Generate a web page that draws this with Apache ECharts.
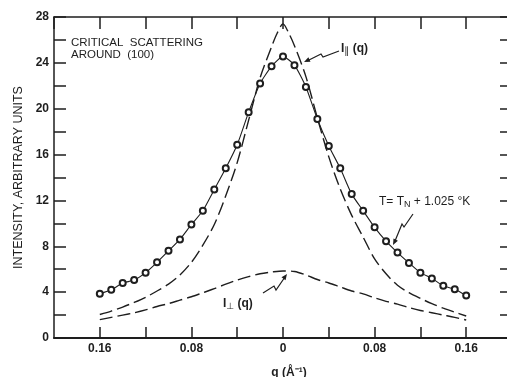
<!DOCTYPE html>
<html>
<head>
	<meta charset="utf-8">
	<script type="text/javascript" src="https://cdn.jsdelivr.net/npm/echarts@6.0.0/dist/echarts.min.js"></script>
</head>
<body style="margin:0;background:#fff;">
	<div id="main" style="width:507px;height:377px;position:absolute;left:0;top:0;"></div>
	<script type="text/javascript">
		// measured points, T = TN + 1.025 K
		var qObs = [-0.16,-0.15,-0.14,-0.13,-0.12,-0.11,-0.10,-0.09,-0.08,-0.07,-0.06,-0.05,-0.04,-0.03,-0.02,-0.01,0,
			0.01,0.02,0.03,0.04,0.05,0.06,0.07,0.08,0.09,0.10,0.11,0.12,0.13,0.14,0.15,0.16];
		var iObs = [3.85,4.2,4.8,5.05,5.7,6.6,7.6,8.6,9.9,11.1,12.95,14.8,16.85,19.7,22.2,23.7,24.55,
			23.8,21.9,19.1,16.75,14.8,12.55,11.1,9.65,8.45,7.45,6.55,5.7,5.2,4.55,4.25,3.7];

		// I parallel (dashed, tall)
		var qPar = [-0.16,-0.15,-0.14,-0.13,-0.12,-0.11,-0.10,-0.09,-0.08,-0.07,-0.06,-0.05,-0.04,-0.03,-0.02,-0.01,-0.005,0,
			0.005,0.01,0.02,0.03,0.04,0.05,0.06,0.07,0.08,0.09,0.10,0.11,0.12,0.13,0.14,0.15,0.16];
		var iPar = [2.05,2.35,2.7,3.1,3.55,4.1,4.7,5.5,6.6,8.1,9.9,12.4,15.3,19.0,22.7,25.4,26.6,27.4,
			26.6,25.5,22.8,19.2,15.8,13.0,10.7,8.8,6.9,5.6,4.6,3.95,3.45,3.0,2.6,2.25,1.92];

		// I perpendicular (dashed, low)
		var qPerp = qObs;
		var iPerp = [1.6,1.8,2.0,2.2,2.45,2.75,3.0,3.3,3.6,3.95,4.3,4.7,5.05,5.35,5.6,5.75,5.85,
			5.8,5.5,5.1,4.8,4.45,4.1,3.85,3.5,3.2,2.95,2.65,2.4,2.2,2.0,1.8,1.57];

		var xLabels = {'-16':'0.16','-8':'0.08','0':'0','8':'0.08','16':'0.16'};
		var yLabels = [0,4,8,12,16,20,24,28];

		function pairs(xs, ys){
			var out = [];
			for(var i=0;i<xs.length;i++){
				out.push([xs[i], ys[i]]);
			}
			return out;
		}

		var ink = '#1e1e1e';
		var font = 'Liberation Sans';

		var chart = echarts.init(document.getElementById('main'));

		chart.setOption({
			animation: false,
			backgroundColor: '#fff',
			grid: { left:54, top:17, right:-5, bottom:39, outerBoundsMode:'none', show:false },
			xAxis: [{
				type:'value', min:-0.2, max:0.2, interval:0.04, position:'bottom',
				name:'q (Å⁻¹)', nameLocation:'middle', nameGap:29,
				nameTextStyle:{ color:ink, fontFamily:font, fontSize:12, fontWeight:'bold', padding:[0,0,0,12] },
				axisLine:{ show:true, onZero:false, lineStyle:{ color:ink, width:2 } },
				axisTick:{ show:true, inside:true, length:11, lineStyle:{ color:ink, width:1.5 } },
				axisLabel:{ show:true, margin:5, color:ink, fontFamily:font, fontSize:12, fontWeight:'bold',
					showMinLabel:false, showMaxLabel:false,
					formatter:function(v){ var k = String(Math.round(v*100)); return xLabels[k] || ''; } },
				splitLine:{ show:false }
			},{
				type:'value', min:-0.2, max:0.2, interval:0.04, position:'top',
				axisLine:{ show:true, onZero:false, lineStyle:{ color:ink, width:1.5 } },
				axisTick:{ show:true, inside:true, length:12, lineStyle:{ color:ink, width:1.5 } },
				axisLabel:{ show:false }, splitLine:{ show:false }
			}],
			yAxis: [{
				type:'value', min:0, max:28, interval:2, position:'left',
				name:'INTENSITY, ARBITRARY UNITS', nameLocation:'middle', nameGap:26, nameRotate:90,
				nameTextStyle:{ color:ink, fontFamily:font, fontSize:12.5 },
				axisLine:{ show:true, onZero:false, lineStyle:{ color:ink, width:1.5 } },
				axisTick:{ show:true, inside:true, length:12, lineStyle:{ color:ink, width:1.5 } },
				axisLabel:{ show:true, margin:5, color:ink, fontFamily:font, fontSize:12, fontWeight:'bold',
					formatter:function(v){ return yLabels.indexOf(v) >= 0 ? String(v) : ''; } },
				splitLine:{ show:false }
			},{
				type:'value', min:0, max:28, interval:2, position:'right',
				axisLine:{ show:true, onZero:false, lineStyle:{ color:ink, width:1.5 } },
				axisTick:{ show:true, inside:true, length:12, lineStyle:{ color:ink, width:1.5 } },
				axisLabel:{ show:false }, splitLine:{ show:false }
			}],
			series: [{
				name:'I par', type:'line', data:pairs(qPar, iPar), smooth:0.3,
				showSymbol:false, symbol:'none',
				lineStyle:{ color:ink, width:1.4, type:[13,5] }
			},{
				name:'I perp', type:'line', data:pairs(qPerp, iPerp), smooth:0.3,
				showSymbol:false, symbol:'none',
				lineStyle:{ color:ink, width:1.4, type:[13,5] }
			},{
				name:'measured', type:'line', data:pairs(qObs, iObs), smooth:0.2,
				symbol:'emptyCircle', symbolSize:6, showSymbol:true,
				itemStyle:{ color:ink, borderWidth:1 },
				lineStyle:{ color:ink, width:1.1 }
			}],
			graphic: [
				{ type:'text', left:71, top:37, style:{ text:'CRITICAL  SCATTERING', fill:ink, font:'11.5px "Liberation Sans"' } },
				{ type:'text', left:71, top:49, style:{ text:'AROUND  (100)', fill:ink, font:'11.5px "Liberation Sans"' } },
				{ type:'text', left:341, top:43, style:{
					text:'{a|I}{s|∥} {a|(q)}',
					rich:{ a:{ fill:ink, font:'bold 12px "Liberation Sans"' }, s:{ fill:ink, font:'10px "DejaVu Sans"', padding:[5,0,0,0] } } } },
				{ type:'polyline', shape:{ points:[[339,51],[323,57],[321,54],[307,61]] }, style:{ stroke:ink, lineWidth:1.2, fill:null } },
				{ type:'polygon', shape:{ points:[[304,62],[310.5,61.8],[308.4,57.2]] }, style:{ fill:ink } },
				{ type:'text', left:379, top:196, style:{
					text:'{a|T= T}{s|N}{a| + 1.025 °K}',
					rich:{ a:{ fill:ink, font:'12px "Liberation Sans"' }, s:{ fill:ink, font:'9px "Liberation Sans"', padding:[5,0,0,0] } } } },
				{ type:'polyline', shape:{ points:[[413,214],[404,227],[402,224],[395,241]] }, style:{ stroke:ink, lineWidth:1.2, fill:null } },
				{ type:'polygon', shape:{ points:[[393,245],[397.9,240.7],[393.5,238.5]] }, style:{ fill:ink } },
				{ type:'text', left:223, top:298, style:{
					text:'{a|I}{s|⊥} {a|(q)}',
					rich:{ a:{ fill:ink, font:'bold 12px "Liberation Sans"' }, s:{ fill:ink, font:'9px "DejaVu Sans"', padding:[5,0,0,0] } } } },
				{ type:'polyline', shape:{ points:[[263,293],[274,286],[276,290],[285,277]] }, style:{ stroke:ink, lineWidth:1.2, fill:null } },
				{ type:'polygon', shape:{ points:[[287,274],[285.5,280.3],[281.5,277.3]] }, style:{ fill:ink } }
			]
		});
	</script>
</body>
</html>
